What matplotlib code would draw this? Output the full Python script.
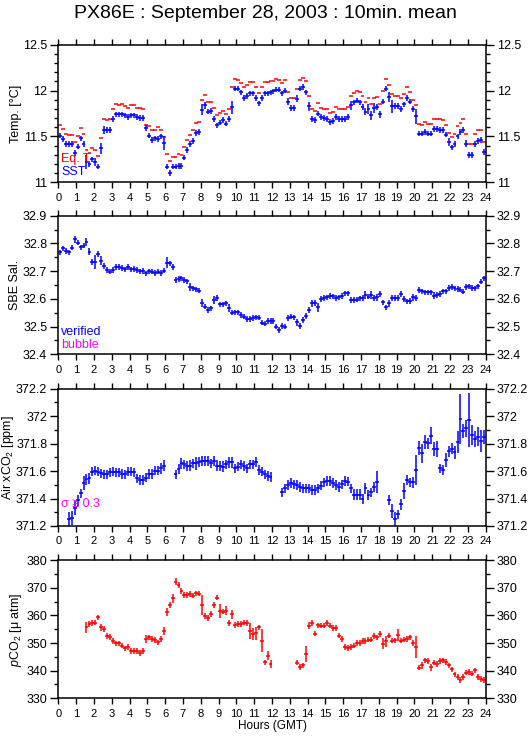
import numpy as np
import matplotlib
matplotlib.use('Agg')
import matplotlib.pyplot as plt
from matplotlib.ticker import MultipleLocator

plt.rcParams['font.family'] = ['Liberation Sans', 'DejaVu Sans']
plt.rcParams['mathtext.fontset'] = 'custom'
plt.rcParams['mathtext.rm'] = 'Liberation Sans'
plt.rcParams['mathtext.it'] = 'Liberation Sans:italic'

nan = np.nan

# 10-minute means, 144 bins over the day
hours = (np.arange(144) + 0.5) / 6.0
hour_ticks = list(range(25))

sst = [
    11.51, 11.47, 11.42, 11.42, 11.42, 11.32, 11.39, 11.48, 11.42, 11.22,
    11.20, 11.25, 11.22, 11.17, 11.37, 11.57, 11.57, 11.57, 11.69, 11.74,
    11.74, 11.74, 11.73, 11.71, 11.73, 11.73, 11.71, 11.70, 11.70, 11.59,
    11.51, 11.46, 11.48, 11.47, 11.50, 11.43, 11.17, 11.10, 11.17, 11.17,
    11.18, 11.18, 11.27, 11.35, 11.42, 11.45, 11.54, 11.55, 11.79, 11.84,
    11.77, 11.78, 11.69, 11.62, 11.65, 11.68, 11.64, 11.69, 11.82, 12.02,
    12.02, 11.98, 11.92, 11.94, 11.97, 11.97, 11.92, 11.86, 11.92, 11.97,
    11.97, 11.98, 11.99, 12.01, 12.01, 11.97, 12.00, 11.88, 11.81, 11.81,
    11.91, 12.02, 12.04, 11.98, 11.83, 11.69, 11.68, 11.75, 11.71, 11.70,
    11.69, 11.66, 11.67, 11.71, 11.69, 11.69, 11.69, 11.71, 11.84, 11.87,
    11.89, 11.87, 11.82, 11.77, 11.80, 11.73, 11.81, 11.82, 11.74, 11.88,
    12.02, 11.93, 11.83, 11.83, 11.83, 11.80, 11.85, 11.92, 11.88, 11.80,
    11.72, 11.53, 11.53, 11.55, 11.53, 11.53, 11.58, 11.58, 11.57, 11.57,
    11.52, 11.44, 11.38, 11.42, 11.50, 11.55, 11.57, 11.42, 11.30, 11.30,
    11.42, 11.45, 11.46, 11.33]
sst_err = [
    0.02, 0.02, 0.03, 0.02, 0.02, 0.03, 0.02, 0.02, 0.03, 0.08,
    0.03, 0.02, 0.04, 0.02, 0.06, 0.04, 0.03, 0.02, 0.02, 0.02,
    0.02, 0.02, 0.02, 0.02, 0.02, 0.02, 0.02, 0.02, 0.02, 0.02,
    0.02, 0.02, 0.02, 0.02, 0.03, 0.08, 0.03, 0.02, 0.02, 0.02,
    0.02, 0.02, 0.03, 0.02, 0.02, 0.02, 0.03, 0.02, 0.06, 0.04,
    0.02, 0.02, 0.03, 0.03, 0.03, 0.02, 0.03, 0.03, 0.07, 0.02,
    0.02, 0.02, 0.02, 0.02, 0.02, 0.02, 0.02, 0.03, 0.02, 0.02,
    0.02, 0.02, 0.02, 0.02, 0.02, 0.02, 0.02, 0.04, 0.02, 0.02,
    0.04, 0.03, 0.02, 0.02, 0.05, 0.02, 0.02, 0.03, 0.02, 0.02,
    0.02, 0.02, 0.02, 0.02, 0.02, 0.02, 0.02, 0.02, 0.05, 0.02,
    0.02, 0.02, 0.02, 0.04, 0.05, 0.05, 0.05, 0.02, 0.04, 0.03,
    0.02, 0.05, 0.07, 0.02, 0.02, 0.02, 0.03, 0.02, 0.02, 0.02,
    0.08, 0.02, 0.02, 0.02, 0.02, 0.02, 0.02, 0.02, 0.02, 0.02,
    0.02, 0.04, 0.02, 0.02, 0.03, 0.02, 0.02, 0.04, 0.035, 0.035,
    0.02, 0.02, 0.02, 0.03]
eq_t = [
    11.62, 11.58, 11.53, 11.52, 11.52, 11.44, 11.50, 11.59, 11.53, 11.35,
    11.32, 11.37, 11.35, 11.29, 11.48, 11.69, 11.68, 11.69, 11.80, 11.85,
    11.84, 11.85, 11.83, 11.81, 11.84, 11.84, 11.81, 11.81, 11.80, 11.62,
    11.61, 11.57, 11.57, 11.60, 11.57, 11.49, 11.31, 11.23, 11.28, 11.28,
    11.31, 11.30, 11.39, 11.46, 11.52, 11.57, 11.65, 11.66, 11.90, 11.95,
    11.88, 11.88, 11.81, 11.73, 11.76, 11.78, 11.75, 11.80, 12.04, 12.13,
    12.12, 12.08, 12.04, 12.06, 12.09, 12.09, 12.04, 11.97, 12.04, 12.09,
    12.09, 12.10, 12.10, 12.13, 12.11, 12.08, 12.11, 11.98, 11.92, 11.92,
    12.02, 12.12, 12.14, 12.10, 11.94, 11.80, 11.78, 11.86, 11.81, 11.80,
    11.80, 11.76, 11.77, 11.82, 11.80, 11.80, 11.80, 11.82, 11.94, 11.97,
    11.99, 11.98, 11.94, 11.88, 11.92, 11.85, 11.92, 11.93, 11.85, 11.99,
    12.13, 12.06, 11.96, 11.94, 11.94, 11.92, 11.96, 12.04, 11.98, 11.90,
    11.84, 11.64, 11.63, 11.66, 11.64, 11.64, 11.69, 11.69, 11.69, 11.68,
    11.63, 11.54, 11.49, 11.53, 11.61, 11.65, 11.69, 11.53, 11.42, 11.42,
    11.53, 11.57, 11.57, 11.44]

sal = [
    32.768, 32.782, 32.773, 32.768, 32.785, 32.815, 32.803, 32.786, 32.792, 32.806,
    32.770, 32.732, 32.734, 32.762, 32.738, 32.718, 32.704, 32.698, 32.704, 32.714,
    32.714, 32.712, 32.706, 32.714, 32.706, 32.708, 32.704, 32.699, 32.700, 32.692,
    32.699, 32.698, 32.694, 32.698, 32.694, 32.702, 32.731, 32.728, 32.714, 32.668,
    32.672, 32.674, 32.668, 32.663, 32.644, 32.638, 32.634, 32.630, 32.584, 32.572,
    32.560, 32.566, 32.596, 32.604, 32.580, 32.580, 32.584, 32.566, 32.550, 32.551,
    32.551, 32.542, 32.536, 32.527, 32.527, 32.530, 32.533, 32.532, 32.514, 32.511,
    32.520, 32.521, 32.520, 32.500, 32.488, 32.503, 32.500, 32.530, 32.536, 32.533,
    32.515, 32.503, 32.524, 32.539, 32.559, 32.584, 32.585, 32.569, 32.599, 32.603,
    32.605, 32.611, 32.609, 32.603, 32.605, 32.611, 32.620, 32.620, 32.596, 32.596,
    32.597, 32.602, 32.603, 32.614, 32.608, 32.614, 32.604, 32.605, 32.617, 32.587,
    32.569, 32.584, 32.603, 32.603, 32.603, 32.617, 32.599, 32.591, 32.593, 32.605,
    32.603, 32.632, 32.627, 32.623, 32.623, 32.623, 32.611, 32.614, 32.617, 32.627,
    32.627, 32.639, 32.642, 32.638, 32.635, 32.633, 32.626, 32.642, 32.645, 32.639,
    32.638, 32.645, 32.662, 32.674]
sal_err = [
    0.008, 0.008, 0.012, 0.008, 0.008, 0.012, 0.008, 0.008, 0.010, 0.015,
    0.012, 0.008, 0.025, 0.010, 0.015, 0.008, 0.008, 0.008, 0.008, 0.008,
    0.008, 0.008, 0.008, 0.008, 0.008, 0.008, 0.008, 0.008, 0.008, 0.008,
    0.008, 0.008, 0.008, 0.008, 0.008, 0.010, 0.020, 0.010, 0.008, 0.008,
    0.008, 0.008, 0.008, 0.008, 0.015, 0.008, 0.008, 0.008, 0.015, 0.008,
    0.008, 0.008, 0.015, 0.010, 0.008, 0.008, 0.008, 0.015, 0.008, 0.008,
    0.008, 0.008, 0.008, 0.008, 0.008, 0.008, 0.008, 0.008, 0.010, 0.008,
    0.008, 0.008, 0.008, 0.008, 0.010, 0.008, 0.010, 0.008, 0.008, 0.008,
    0.012, 0.010, 0.008, 0.008, 0.010, 0.012, 0.008, 0.015, 0.008, 0.008,
    0.008, 0.008, 0.008, 0.008, 0.008, 0.008, 0.008, 0.008, 0.012, 0.012,
    0.008, 0.008, 0.008, 0.015, 0.008, 0.015, 0.008, 0.012, 0.010, 0.008,
    0.010, 0.012, 0.012, 0.008, 0.008, 0.008, 0.008, 0.008, 0.008, 0.012,
    0.012, 0.008, 0.008, 0.008, 0.008, 0.008, 0.012, 0.010, 0.008, 0.008,
    0.008, 0.008, 0.008, 0.008, 0.008, 0.008, 0.010, 0.008, 0.008, 0.008,
    0.008, 0.008, 0.010, 0.008]

air_xco2 = [
    nan, nan, nan, 371.251, 371.256, 371.329, 371.389, 371.438, 371.511, 371.542,
    371.547, 371.596, 371.603, 371.596, 371.583, 371.576, 371.576, 371.591, 371.596, 371.591,
    371.591, 371.579, 371.576, 371.596, 371.596, 371.591, 371.547, 371.535, 371.535, 371.552,
    371.579, 371.579, 371.603, 371.603, 371.620, 371.639, nan, nan, nan, 371.576,
    371.615, 371.656, 371.649, 371.639, 371.639, 371.656, 371.656, 371.664, 371.673, 371.673,
    371.673, 371.656, 371.673, 371.639, 371.639, 371.632, 371.649, 371.664, 371.664, 371.620,
    371.632, 371.649, 371.639, 371.620, 371.649, 371.649, 371.664, 371.608, 371.596, 371.576,
    371.565, 371.559, nan, nan, nan, 371.445, 371.474, 371.499, 371.511, 371.503,
    371.499, 371.486, 371.474, 371.474, 371.474, 371.462, 371.462, 371.474, 371.494, 371.518,
    371.528, 371.528, 371.511, 371.499, 371.486, 371.503, 371.528, 371.523, 371.474, 371.426,
    371.426, 371.426, 371.397, 371.474, 371.426, 371.445, 371.486, 371.518, nan, nan,
    nan, 371.389, 371.309, 371.251, 371.285, 371.358, 371.455, 371.535, 371.518, 371.518,
    371.608, 371.766, 371.729, 371.814, 371.802, 371.858, 371.761, 371.761, 371.620, 371.608,
    371.681, 371.746, 371.761, 371.736, 371.809, 371.979, 371.894, 371.911, 371.972, 371.863,
    371.833, 371.850, 371.819, 371.850]
air_err = [
    0.035, 0.035, 0.035, 0.05, 0.05, 0.05, 0.04, 0.035, 0.05, 0.04,
    0.04, 0.035, 0.035, 0.035, 0.035, 0.035, 0.035, 0.035, 0.035, 0.035,
    0.035, 0.035, 0.035, 0.035, 0.035, 0.035, 0.035, 0.035, 0.035, 0.035,
    0.035, 0.035, 0.035, 0.035, 0.04, 0.04, 0.035, 0.035, 0.035, 0.03,
    0.035, 0.04, 0.035, 0.035, 0.04, 0.035, 0.05, 0.035, 0.035, 0.035,
    0.035, 0.035, 0.035, 0.04, 0.035, 0.04, 0.035, 0.04, 0.04, 0.03,
    0.035, 0.035, 0.035, 0.035, 0.035, 0.035, 0.035, 0.035, 0.035, 0.035,
    0.035, 0.035, 0.035, 0.035, 0.035, 0.02, 0.03, 0.035, 0.035, 0.035,
    0.035, 0.035, 0.035, 0.035, 0.035, 0.035, 0.035, 0.035, 0.035, 0.035,
    0.035, 0.035, 0.035, 0.035, 0.035, 0.035, 0.035, 0.035, 0.035, 0.04,
    0.04, 0.04, 0.03, 0.04, 0.035, 0.035, 0.035, 0.08, 0.035, 0.035,
    0.035, 0.03, 0.05, 0.05, 0.035, 0.04, 0.06, 0.03, 0.035, 0.04,
    0.11, 0.05, 0.07, 0.05, 0.04, 0.06, 0.05, 0.06, 0.03, 0.03,
    0.05, 0.04, 0.04, 0.05, 0.08, 0.18, 0.05, 0.06, 0.20, 0.07,
    0.06, 0.07, 0.08, 0.05]

pco2 = [
    nan, nan, nan, nan, nan, nan, nan, nan, nan, 355.7,
    356.9, 357.2, 357.4, 359.3, 355.7, 355.1, 352.6, 352.3, 350.8, 349.9,
    349.9, 349.1, 348.1, 348.5, 347.1, 347.1, 347.1, 346.5, 347.1, 351.5,
    352.1, 351.4, 351.1, 350.3, 351.4, 354.4, 361.2, 363.8, 366.2, 372.3,
    371.1, 368.9, 367.4, 367.4, 367.8, 367.2, 368.0, 367.9, 363.8, 359.8,
    359.0, 360.6, 363.8, 366.5, 361.6, 361.4, 361.8, 357.2, 360.4, 356.6,
    356.9, 356.9, 357.4, 357.2, 354.4, 353.3, 353.5, 355.7, 350.8, 343.0,
    345.5, 342.3, nan, nan, nan, nan, nan, nan, nan, nan,
    342.9, 341.4, 341.9, 346.1, 356.3, 357.3, 353.4, 356.4, 356.3, 356.3,
    357.3, 356.3, 355.5, 355.5, 352.7, 351.5, 348.6, 348.3, 348.6, 349.1,
    350.1, 350.1, 350.7, 350.7, 351.3, 351.3, 352.5, 352.1, 353.3, 349.7,
    350.7, 352.7, 350.9, 351.0, 352.8, 350.9, 351.3, 351.5, 352.1, 350.1,
    348.5, 341.1, 342.0, 343.7, 343.5, 341.3, 342.9, 342.5, 343.5, 343.7,
    343.2, 341.9, 340.5, 338.7, 337.8, 336.6, 337.7, 339.3, 339.6, 338.9,
    340.1, 337.7, 336.9, 336.6]
pco2_err = [
    0.8, 0.8, 0.8, 0.8, 0.8, 0.8, 0.8, 0.8, 0.8, 2.0,
    0.8, 0.8, 1.0, 0.8, 1.2, 1.0, 0.8, 0.8, 0.8, 0.8,
    0.8, 0.8, 0.8, 0.8, 0.8, 0.8, 0.8, 0.8, 0.8, 1.5,
    0.8, 0.8, 0.8, 0.8, 0.8, 1.5, 1.5, 0.8, 1.5, 1.2,
    1.0, 0.8, 1.0, 1.0, 0.8, 0.8, 0.8, 0.8, 3.5, 0.8,
    0.8, 0.8, 1.2, 0.8, 2.5, 1.0, 1.5, 0.8, 1.5, 1.2,
    1.0, 1.0, 0.8, 0.8, 3.0, 2.0, 2.5, 1.0, 4.2, 0.8,
    1.5, 1.5, 0.8, 0.8, 0.8, 0.8, 0.8, 0.8, 0.8, 0.8,
    0.8, 0.8, 0.8, 3.0, 1.2, 0.8, 1.0, 0.8, 0.8, 0.8,
    0.8, 0.8, 0.8, 0.8, 1.0, 0.8, 0.8, 0.8, 0.8, 0.8,
    0.8, 0.8, 0.8, 0.8, 0.8, 0.8, 0.8, 0.8, 0.8, 2.0,
    2.0, 0.8, 0.8, 0.8, 2.2, 0.8, 0.8, 0.8, 0.8, 0.8,
    4.0, 0.8, 1.3, 0.8, 1.0, 1.3, 0.8, 1.0, 1.2, 0.8,
    0.8, 0.8, 0.8, 0.8, 0.8, 0.8, 0.8, 0.8, 0.8, 0.8,
    0.8, 0.8, 0.8, 0.8]

temp_ticks = [11, 11.5, 12, 12.5]
temp_labels = ['11', '11.5', '12', '12.5']
sal_ticks = [32.4, 32.5, 32.6, 32.7, 32.8, 32.9]
sal_labels = ['32.4', '32.5', '32.6', '32.7', '32.8', '32.9']
air_ticks = [371.2, 371.4, 371.6, 371.8, 372.0, 372.2]
air_labels = ['371.2', '371.4', '371.6', '371.8', '372', '372.2']
pco2_ticks = [330, 340, 350, 360, 370, 380]
pco2_labels = ['330', '340', '350', '360', '370', '380']

BLUE = '#0000ff'
RED = '#ff0000'
MAGENTA = '#ff00ff'

fig = plt.figure(figsize=(5.29, 7.39), dpi=100)

L, W = 58.3 / 529, 427.4 / 529


def make_axes(top_px, bottom_px):
    return fig.add_axes([L, 1 - bottom_px / 739, W, (bottom_px - top_px) / 739])


def style(ax, ylim, ticks, labels, minor, ylabel, label_x):
    ax.set_xlim(0, 24)
    ax.set_ylim(*ylim)
    ax.set_xticks(hour_ticks)
    ax.set_xticklabels([str(h) for h in hour_ticks], fontsize=8)
    ax.set_yticks(ticks)
    ax.set_yticklabels(labels, fontsize=9)
    ax.yaxis.set_minor_locator(MultipleLocator(minor))
    ax.tick_params(axis='x', which='major', direction='out', length=4.5,
                   width=1, top=True, bottom=True, pad=3)
    ax.tick_params(axis='y', which='major', direction='out', length=6,
                   width=1, left=True, right=True, labelright=True, pad=2)
    ax.tick_params(axis='y', which='minor', direction='out', length=3,
                   width=1, left=True, right=True)
    for s in ax.spines.values():
        s.set_linewidth(1.1)
    ax.set_ylabel(ylabel, fontsize=9)
    ax.yaxis.set_label_coords(label_x, 0.5)


def plus(ax, y, err, color, min_bar=0.0):
    # "+" marks: horizontal stroke spans the 10-min bin, vertical is the spread
    yerr = None if err is None else np.maximum(err, min_bar)
    ax.errorbar(hours, y, xerr=0.11, yerr=yerr, fmt='none', ecolor=color,
                elinewidth=1.1, capsize=0)


# Temperature
ax1 = make_axes(44.7, 182.3)
plus(ax1, eq_t, None, RED)
plus(ax1, sst, sst_err, BLUE, 0.03)
style(ax1, (11, 12.5), temp_ticks, temp_labels, 0.1, 'Temp. [°C]', -0.086)
ax1.text(0.007, 0.17, 'Eq. T', color=RED, fontsize=9, transform=ax1.transAxes, va='center')
ax1.text(0.007, 0.075, 'SST', color=BLUE, fontsize=9, transform=ax1.transAxes, va='center')

# Salinity
ax2 = make_axes(215.7, 354.3)
plus(ax2, sal, sal_err, BLUE, 0.01)
style(ax2, (32.4, 32.9), sal_ticks, sal_labels, 0.05, 'SBE Sal.', -0.088)
ax2.text(0.007, 0.16, 'verified', color=BLUE, fontsize=9, transform=ax2.transAxes, va='center')
ax2.text(0.007, 0.067, 'bubble', color=MAGENTA, fontsize=9, transform=ax2.transAxes, va='center')

# Air xCO2
ax3 = make_axes(388.7, 526.0)
plus(ax3, air_xco2, air_err, BLUE, 0.035)
style(ax3, (371.2, 372.2), air_ticks, air_labels, 0.1, r'Air xCO$_2$ [ppm]', -0.1)
ax3.text(0.007, 0.16, 'σ ≥ 0.3', color=MAGENTA, fontsize=9, transform=ax3.transAxes,
         va='center', family=['Liberation Sans', 'DejaVu Sans'])

# pCO2
ax4 = make_axes(560.3, 698.3)
plus(ax4, pco2, pco2_err, RED, 1.0)
style(ax4, (330, 380), pco2_ticks, pco2_labels, 5, r'$p$CO$_2$ [μ atm]', -0.08)

fig.text(0.501, 1 - 13 / 739, 'PX86E : September 28, 2003 : 10min. mean',
         ha='center', va='center', fontsize=14)
fig.text(273 / 529, 1 - 726 / 739, 'Hours (GMT)', ha='center', va='center', fontsize=8.5)

fig.savefig('out.png', dpi=100)
